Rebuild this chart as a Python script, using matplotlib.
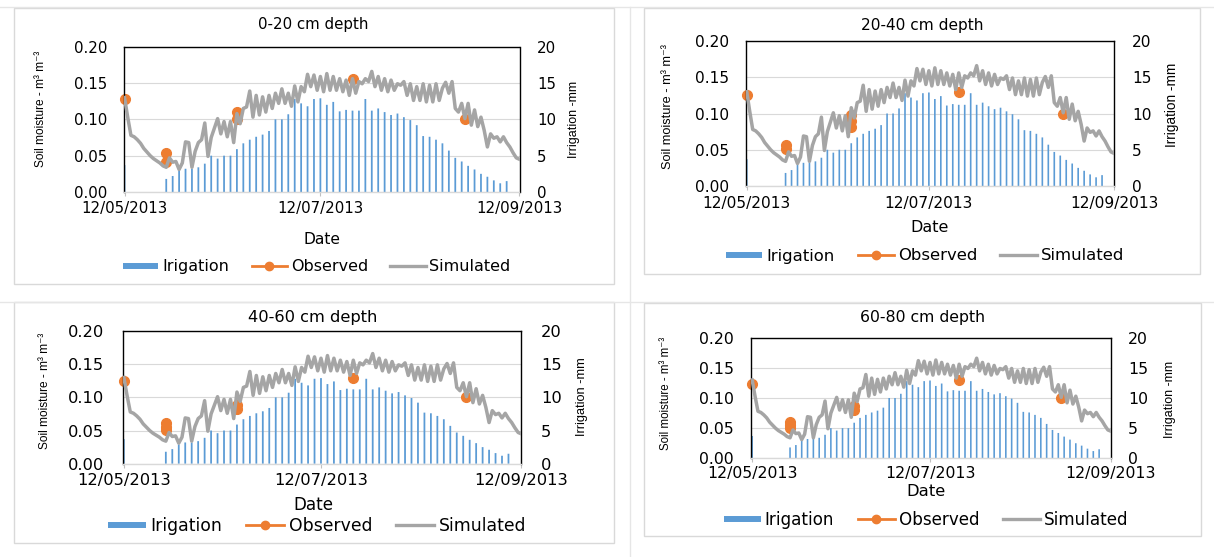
import matplotlib
matplotlib.use('Agg')
import matplotlib.pyplot as plt
import matplotlib.dates as mdates
from matplotlib.lines import Line2D
from matplotlib.patches import Rectangle
from matplotlib.ticker import FormatStrFormatter
import pandas as pd

plt.rcParams['font.family'] = ['DejaVu Sans']

W, H = 1214, 557

# ---------------- data ----------------
sim_start = '2013-05-12'
simulated = [
    0.130, 0.103, 0.078, 0.076, 0.072, 0.067, 0.060, 0.055, 0.050, 0.046,
    0.043, 0.040, 0.036, 0.034, 0.047, 0.041, 0.042, 0.031, 0.040, 0.069,
    0.068, 0.034, 0.056, 0.068, 0.072, 0.095, 0.049, 0.075, 0.088, 0.101,
    0.080, 0.097, 0.076, 0.097, 0.068, 0.108, 0.094, 0.115, 0.117, 0.139,
    0.103, 0.133, 0.106, 0.131, 0.110, 0.133, 0.115, 0.136, 0.122, 0.142,
    0.122, 0.136, 0.118, 0.146, 0.124, 0.145, 0.138, 0.162, 0.145, 0.161,
    0.140, 0.159, 0.138, 0.163, 0.140, 0.159, 0.140, 0.156, 0.138, 0.154,
    0.133, 0.156, 0.136, 0.152, 0.149, 0.156, 0.152, 0.166, 0.145, 0.159,
    0.140, 0.156, 0.138, 0.154, 0.140, 0.149, 0.147, 0.152, 0.133, 0.149,
    0.126, 0.145, 0.126, 0.149, 0.124, 0.147, 0.124, 0.149, 0.126, 0.143,
    0.151, 0.136, 0.152, 0.115, 0.110, 0.122, 0.101, 0.122, 0.092, 0.113,
    0.090, 0.103, 0.085, 0.062, 0.080, 0.074, 0.076, 0.069, 0.076, 0.068,
    0.062, 0.054, 0.047, 0.045,
]
sim_dates = pd.date_range(sim_start, periods=len(simulated), freq='D')

irrigation = [
    3.7, 1.8, 2.2, 2.9, 3.2, 3.2, 3.4, 3.9, 5.0, 4.6, 5.0, 5.0, 5.9, 6.7,
    7.2, 7.6, 7.9, 8.4, 10.0, 10.0, 10.7, 12.8, 12.2, 11.8, 12.8, 12.9,
    12.0, 12.4, 11.1, 11.3, 11.2, 11.2, 12.8, 11.2, 11.5, 11.0, 10.6, 10.8,
    10.3, 9.9, 9.2, 7.7, 7.6, 7.2, 6.7, 5.7, 4.7, 4.2, 3.6, 3.1, 2.5, 2.1,
    1.6, 1.2, 1.5,
]
irr_dates = pd.DatetimeIndex(['2013-05-12']).append(
    pd.date_range('2013-05-25', '2013-09-08', freq='2D'))

obs_dates = ['2013-05-12', '2013-05-25', '2013-06-16', '2013-07-22', '2013-08-26']
obs_0_20 = [[0.128], [0.053, 0.041], [0.110, 0.101], [0.155], [0.100]]
obs_20_40 = [[0.125], [0.056, 0.051], [0.098, 0.089, 0.082], [0.129], [0.099]]
obs_40_60 = [[0.125], [0.062, 0.056, 0.051], [0.088, 0.082], [0.129], [0.100]]
obs_60_80 = [[0.124], [0.060, 0.055, 0.051], [0.087, 0.080], [0.130], [0.0995]]
observed = [obs_0_20, obs_20_40, obs_40_60, obs_60_80]

titles = ['0-20 cm depth', '20-40 cm depth', '40-60 cm depth', '60-80 cm depth']
moisture_ticks = [0.0, 0.05, 0.10, 0.15, 0.20]
irrigation_ticks = [0, 5, 10, 15, 20]
date_ticks = ['2013-05-12', '2013-07-12', '2013-09-12']
legend_labels = ['Irigation', 'Observed', 'Simulated']
x_label = 'Date'
y_label = 'Soil moisture - m\u00b3 m\u207b\u00b3'
y2_label = 'Irrigation -mm'

# ---------------- layout (pixels, top-left origin) ----------------
panels = [
    dict(ax=(123.7, 46.7, 519.5, 192), box=(13.6, 7.5, 614, 284), title=(313, 24),
         date=(321.6, 239), yl=(41, 109), yr=(574, 119), leg=(317, 266.7),
         ypad=16, y2pad=17.5, xoff=14.7, fs=1.0, ylfs=8.6, yrfs=9.0),
    dict(ax=(746, 41, 1114, 186), box=(644, 7.5, 1200, 274), title=(922, 25.7),
         date=(929.7, 227), yl=(668, 106.7), yr=(1172, 105), leg=(925, 256),
         ypad=16.6, y2pad=18, xoff=16, fs=1.03, ylfs=9.2, yrfs=9.8),
    dict(ax=(123, 331, 521.4, 463.7), box=(13.6, 302, 614, 542.5), title=(313, 317.7),
         date=(313, 504.5), yl=(44.7, 390.8), yr=(581.7, 396.7), leg=(317, 525.7),
         ypad=18.7, y2pad=19.6, xoff=15.3, fs=1.08, ylfs=8.6, yrfs=9.2),
    dict(ax=(751.4, 337.7, 1110.8, 458.3), box=(644, 302.5, 1201, 536), title=(922.8, 317.7),
         date=(926, 491.5), yl=(665.9, 393), yr=(1170.5, 399), leg=(926, 520),
         ypad=17.4, y2pad=17, xoff=14.4, fs=1.05, ylfs=8.3, yrfs=9.0),
]

BLUE = '#5B9BD5'
ORANGE = '#ED7D31'
GRAY = '#A5A5A5'
GRID = '#D9D9D9'
PX2PT = 0.72

fig = plt.figure(figsize=(W / 100, H / 100), dpi=100)


def fx(x):
    return x / W


def fy(y):
    return 1 - y / H


# frame lines of the composite picture
fig.add_artist(Line2D([0, 1], [fy(6.5), fy(6.5)], transform=fig.transFigure,
                      color='#E6E6E6', lw=1))
fig.add_artist(Line2D([0, 1], [fy(301.5), fy(301.5)], transform=fig.transFigure,
                      color='#E6E6E6', lw=1))
fig.add_artist(Line2D([fx(630), fx(630)], [0, fy(6.5)], transform=fig.transFigure,
                      color='#E6E6E6', lw=1))

for p in panels:
    x0, y0, x1, y1 = p['box']
    fig.add_artist(Rectangle((fx(x0), fy(y1)), fx(x1) - fx(x0), fy(y0) - fy(y1),
                             transform=fig.transFigure, fill=False,
                             edgecolor=GRID, lw=1.0))

for i, p in enumerate(panels):
    x0, y0, x1, y1 = p['ax']
    ax = fig.add_axes([fx(x0), fy(y1), (x1 - x0) / W, (y1 - y0) / H])
    ax2 = ax.twinx()
    s = p['fs']
    tick_fs = 10.8 * s
    em_px = tick_fs / PX2PT

    # bars on secondary axis (behind)
    bars = ax2.bar(irr_dates, irrigation, width=0.55, color=BLUE,
                   linewidth=0, zorder=2)
    for b in bars:
        b.set_snap(False)
    ax2.set_ylim(0, 20)
    ax2.set_yticks(irrigation_ticks)
    ax2.yaxis.grid(True, color=GRID, lw=0.8)
    ax2.set_axisbelow(True)
    for sp in ax2.spines.values():
        sp.set_visible(False)
    ax2.tick_params(axis='y', length=0, pad=p['y2pad'] * PX2PT, labelsize=tick_fs)

    ax.set_zorder(ax2.get_zorder() + 1)
    ax.patch.set_visible(False)

    # observed (replicates on the same date joined)
    for d, vals in zip(obs_dates, observed[i]):
        ax.plot([pd.Timestamp(d)] * len(vals), vals, '-o', color=ORANGE,
                ms=7, lw=2.0, zorder=2, clip_on=False)
    # simulated
    ax.plot(sim_dates, simulated, color=GRAY, lw=2.5, zorder=3,
            solid_joinstyle='round')

    ax.set_ylim(0, 0.2)
    ax.set_yticks(moisture_ticks)
    ax.yaxis.set_major_formatter(FormatStrFormatter('%.2f'))
    ax.set_xlim(pd.Timestamp('2013-05-12') - pd.Timedelta(hours=6),
                pd.Timestamp('2013-09-12'))
    ax.set_xticks(pd.to_datetime(date_ticks))
    ax.xaxis.set_major_formatter(mdates.DateFormatter('%d/%m/%Y'))

    ax.tick_params(axis='y', length=0, pad=p['ypad'] * PX2PT, labelsize=tick_fs)
    xpad = (p['xoff'] - 0.4 * em_px) * PX2PT - 3
    ax.tick_params(axis='x', length=3, width=0.8, color='#BFBFBF',
                   pad=xpad, labelsize=tick_fs)

    for side in ['left', 'top', 'right']:
        ax.spines[side].set_color('black')
        ax.spines[side].set_linewidth(1.0)
    ax.spines['bottom'].set_color(GRID)
    ax.spines['bottom'].set_linewidth(1.0)

    def axc(px, py):
        return (px - x0) / (x1 - x0), (y1 - py) / (y1 - y0)

    tx, ty = axc(*p['title'])
    ax.set_title(titles[i], fontsize=10.8 * s, x=tx, y=ty, va='center', pad=0)

    ax.set_xlabel(x_label, fontsize=11.2 * s, va='center')
    ax.xaxis.set_label_coords(*axc(*p['date']))

    ax.set_ylabel(y_label, fontsize=p['ylfs'], va='center',
                  family=['Liberation Sans', 'DejaVu Sans'])
    ax.yaxis.set_label_coords(*axc(*p['yl']))

    ax2.set_ylabel(y2_label, fontsize=p['yrfs'], va='center',
                   family=['Liberation Sans', 'DejaVu Sans'])
    ax2.yaxis.set_label_coords(*axc(*p['yr']))

    handles = [
        Line2D([], [], color=BLUE, lw=4.3, solid_capstyle='butt'),
        Line2D([], [], color=ORANGE, lw=2.0, marker='o', ms=6),
        Line2D([], [], color=GRAY, lw=2.4),
    ]
    ax.legend(handles, legend_labels, loc='center',
              bbox_to_anchor=(fx(p['leg'][0]), fy(p['leg'][1])),
              bbox_transform=fig.transFigure, ncol=3, frameon=False,
              fontsize=11.5 * s, handlelength=2.2, handletextpad=0.25,
              columnspacing=1.4, borderpad=0, borderaxespad=0)

fig.savefig('out.png', dpi=100)
